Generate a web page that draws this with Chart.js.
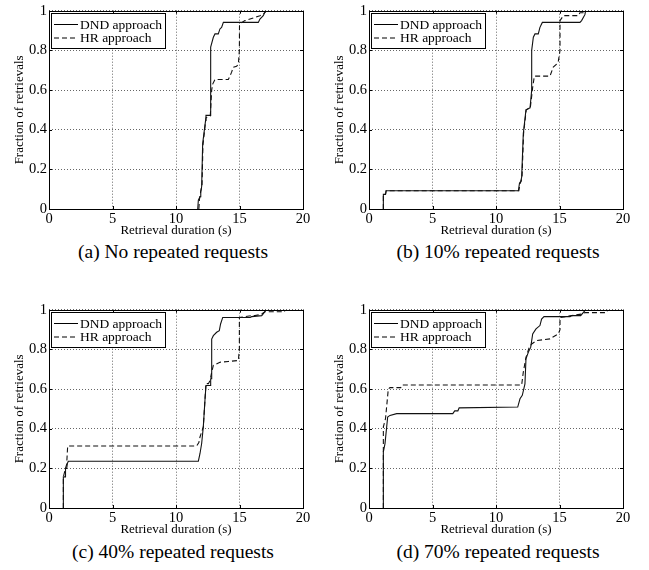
<!DOCTYPE html>
<html>
<head>
<meta charset="utf-8">
<script src="https://cdn.jsdelivr.net/npm/chart.js@4.4.1/dist/chart.umd.min.js"></script>
<style>
body { margin: 0; background: #fff; width: 649px; height: 570px; position: relative; overflow: hidden; }
.cell { position: absolute; width: 320px; height: 240px; }
.cap { position: absolute; width: 320px; text-align: center; font-family: "Liberation Serif", serif; font-size: 19.5px; line-height: 22px; color: #000; }
</style>
</head>
<body>
<div class="cell" style="left:0;top:0"><canvas id="chartA" width="320" height="240"></canvas></div>
<div class="cell" style="left:320px;top:0"><canvas id="chartB" width="320" height="240"></canvas></div>
<div class="cell" style="left:0;top:299px"><canvas id="chartC" width="320" height="240"></canvas></div>
<div class="cell" style="left:320px;top:299px"><canvas id="chartD" width="320" height="240"></canvas></div>
<div class="cap" style="left:13px;top:241px">(a) No repeated requests</div>
<div class="cap" style="left:338px;top:241px">(b) 10% repeated requests</div>
<div class="cap" style="left:13px;top:541px">(c) 40% repeated requests</div>
<div class="cap" style="left:338px;top:541px">(d) 70% repeated requests</div>
<script>
// series names, axis ticks
var seriesNames = ['DND approach', 'HR approach'];
var xTicks = [0, 5, 10, 15, 20];
var yTicks = [0, 0.2, 0.4, 0.6, 0.8, 1];
var xTitle = 'Retrieval duration (s)';
var yTitle = 'Fraction of retrievals';

// (a) no repeated requests
var aDndX = [11.71, 11.76, 11.89, 11.95, 12.02, 12.10, 12.33, 12.36, 12.68, 12.73, 12.94, 13.07, 13.33, 13.46, 13.59, 13.73, 16.48, 16.61, 16.87, 17.0, 17.06];
var aDndY = [0, 0.045, 0.062, 0.087, 0.112, 0.33, 0.447, 0.472, 0.472, 0.816, 0.866, 0.883, 0.883, 0.908, 0.916, 0.941, 0.941, 0.958, 0.975, 0.992, 1];
var aHrX = [11.8, 11.85, 11.95, 12.05, 12.12, 12.36, 12.7, 12.81, 12.89, 13.07, 14.12, 14.38, 14.51, 14.77, 14.91, 14.99, 15.0, 15.17, 15.43, 15.83, 16.22, 16.61, 17.0, 17.08];
var aHrY = [0, 0.05, 0.09, 0.12, 0.32, 0.46, 0.47, 0.6, 0.63, 0.653, 0.653, 0.69, 0.715, 0.72, 0.73, 0.8, 0.925, 0.94, 0.95, 0.958, 0.966, 0.975, 0.99, 1];

// (b) 10% repeated requests
var bDndX = [1.13, 1.13, 1.3, 1.35, 11.76, 11.85, 11.95, 12.02, 12.15, 12.36, 12.68, 12.81, 12.81, 12.94, 13.07, 13.33, 13.46, 13.65, 16.61, 16.74, 17.0, 17.06];
var bDndY = [0, 0.074, 0.074, 0.092, 0.092, 0.13, 0.14, 0.16, 0.38, 0.5, 0.51, 0.6, 0.8, 0.866, 0.883, 0.883, 0.916, 0.941, 0.941, 0.95, 0.98, 1];
var bHrX = [1.13, 1.13, 1.3, 1.35, 11.8, 11.9, 11.98, 12.05, 12.17, 12.38, 12.7, 12.83, 12.89, 13.02, 14.25, 14.51, 14.77, 14.91, 15.04, 15.04, 15.3, 16.48, 16.61, 16.95, 17.0];
var bHrY = [0, 0.074, 0.074, 0.092, 0.092, 0.13, 0.14, 0.16, 0.38, 0.5, 0.51, 0.58, 0.615, 0.67, 0.67, 0.716, 0.73, 0.746, 0.8, 0.95, 0.975, 0.975, 0.99, 0.99, 1];

// (c) 40% repeated requests
var cDndX = [1.13, 1.13, 1.26, 1.3, 1.39, 1.45, 1.52, 11.76, 11.89, 12.02, 12.15, 12.28, 12.36, 12.68, 12.73, 12.81, 12.81, 12.94, 13.2, 13.41, 13.51, 13.68, 15.83, 15.96, 16.75, 17.0, 17.06];
var cDndY = [0, 0.157, 0.157, 0.199, 0.199, 0.225, 0.236, 0.236, 0.275, 0.325, 0.409, 0.543, 0.618, 0.618, 0.652, 0.652, 0.852, 0.869, 0.886, 0.894, 0.928, 0.961, 0.961, 0.965, 0.97, 0.99, 1];
var cHrX = [1.13, 1.13, 1.3, 1.39, 1.47, 11.63, 11.8, 11.89, 12.15, 12.28, 12.36, 12.55, 12.68, 12.81, 12.94, 13.46, 14.12, 14.91, 14.99, 14.99, 15.96, 16.22, 16.75, 17.0, 18.55, 18.56];
var cHrY = [0, 0.157, 0.2, 0.22, 0.313, 0.313, 0.33, 0.358, 0.409, 0.543, 0.627, 0.627, 0.643, 0.685, 0.719, 0.735, 0.739, 0.744, 0.8, 0.961, 0.97, 0.97, 0.978, 0.99, 0.99, 1];

// (d) 70% repeated requests
var dDndX = [1.13, 1.13, 1.26, 1.47, 1.65, 2.18, 6.6, 6.75, 7.0, 7.1, 11.71, 11.89, 12.07, 12.28, 12.36, 12.55, 12.73, 12.89, 13.15, 13.46, 13.59, 13.78, 15.83, 15.96, 16.67, 17.0, 17.06];
var dDndY = [0, 0.283, 0.325, 0.459, 0.467, 0.476, 0.476, 0.49, 0.49, 0.505, 0.509, 0.551, 0.568, 0.626, 0.752, 0.786, 0.81, 0.878, 0.903, 0.92, 0.953, 0.965, 0.965, 0.97, 0.97, 0.995, 1];
var dHrX = [1.13, 1.13, 1.3, 1.52, 1.65, 2.5, 2.6, 12.02, 12.15, 12.36, 12.62, 12.81, 13.2, 14.25, 14.91, 15.04, 15.04, 15.96, 16.75, 17.0, 18.7, 18.8];
var dHrY = [0, 0.409, 0.45, 0.6, 0.607, 0.607, 0.62, 0.62, 0.685, 0.76, 0.81, 0.827, 0.844, 0.853, 0.878, 0.9, 0.961, 0.97, 0.978, 0.985, 0.985, 1];

var serif = '"Liberation Serif", "Times New Roman", serif';

function pts(xs, ys) {
    return xs.map(function (x, i) { return { x: x, y: ys[i] }; });
}

// box around the axes, inward ticks and the boxed legend (matlab look)
var framePlugin = {
    id: 'frame',
    afterDraw: function (chart) {
        var ctx = chart.ctx;
        var ca = chart.chartArea;
        var sx = chart.scales.x, sy = chart.scales.y;
        ctx.save();
        ctx.strokeStyle = '#000';
        ctx.lineWidth = 1;
        ctx.setLineDash([]);
        ctx.beginPath();
        xTicks.forEach(function (v) {
            var px = Math.round(sx.getPixelForValue(v)) + 0.5;
            ctx.moveTo(px, ca.bottom); ctx.lineTo(px, ca.bottom - 3);
            ctx.moveTo(px, ca.top); ctx.lineTo(px, ca.top + 3);
        });
        yTicks.forEach(function (v) {
            var py = Math.round(sy.getPixelForValue(v)) + 0.5;
            ctx.moveTo(ca.left, py); ctx.lineTo(ca.left + 3, py);
            ctx.moveTo(ca.right, py); ctx.lineTo(ca.right - 3, py);
        });
        ctx.stroke();
        ctx.strokeRect(Math.round(ca.left) + 0.5, Math.round(ca.top) + 0.5, Math.round(ca.right - ca.left), Math.round(ca.bottom - ca.top));

        // legend
        var lx = Math.round(ca.left) + 2, ly = Math.round(ca.top) + 2;
        ctx.fillStyle = '#fff';
        ctx.fillRect(lx, ly, 114, 35);
        ctx.strokeRect(lx + 0.5, ly + 0.5, 114, 35);
        ctx.font = '13.5px ' + serif;
        ctx.textBaseline = 'middle';
        chart.data.datasets.forEach(function (ds, i) {
            var y = ly + 11.5 + i * 13.5;
            ctx.setLineDash(ds.borderDash || []);
            ctx.beginPath();
            ctx.moveTo(lx + 3, y); ctx.lineTo(lx + 27, y);
            ctx.stroke();
            ctx.setLineDash([]);
            ctx.fillStyle = '#000';
            ctx.fillText(ds.label, lx + 29, y + 0.5);
        });
        ctx.restore();
    }
};

function makeChart(id, dndX, dndY, hrX, hrY) {
    var target = document.getElementById(id);
    new Chart(target, {
        type: 'line',
        data: {
            datasets: [
                {
                    label: seriesNames[0],
                    data: pts(dndX, dndY),
                    borderColor: '#111',
                    borderWidth: 1.1,
                    pointRadius: 0,
                    fill: false,
                    tension: 0
                },
                {
                    label: seriesNames[1],
                    data: pts(hrX, hrY),
                    borderColor: '#111',
                    borderWidth: 1.1,
                    borderDash: [5, 3],
                    pointRadius: 0,
                    fill: false,
                    tension: 0
                }
            ]
        },
        options: {
            responsive: false,
            animation: false,
            layout: { padding: { top: 10, right: 17, left: 0, bottom: 0 } },
            plugins: { legend: { display: false }, tooltip: { enabled: false } },
            scales: {
                x: {
                    type: 'linear',
                    min: 0,
                    max: 20,
                    afterBuildTicks: function (s) { s.ticks = xTicks.map(function (v) { return { value: v }; }); },
                    afterFit: function (s) { s.height = 31; },
                    ticks: { color: '#000', font: { family: serif, size: 14.5 }, padding: 1, maxRotation: 0, callback: function (v) { return String(v); } },
                    grid: { color: '#666', drawTicks: false },
                    border: { display: false, dash: [1, 2] },
                    title: { display: true, text: xTitle, color: '#000', font: { family: serif, size: 13 }, padding: { top: 0, bottom: 2 } }
                },
                y: {
                    min: 0,
                    max: 1,
                    afterBuildTicks: function (s) { s.ticks = yTicks.map(function (v) { return { value: v }; }); },
                    afterFit: function (s) { s.width = 49; },
                    ticks: { color: '#000', font: { family: serif, size: 14.5 }, padding: 2, callback: function (v) { return String(v); } },
                    grid: { color: '#666', drawTicks: false },
                    border: { display: false, dash: [1, 2] },
                    title: { display: true, text: yTitle, color: '#000', font: { family: serif, size: 13 }, padding: { top: 12, bottom: 0 } }
                }
            }
        },
        plugins: [framePlugin]
    });
}

makeChart('chartA', aDndX, aDndY, aHrX, aHrY);
makeChart('chartB', bDndX, bDndY, bHrX, bHrY);
makeChart('chartC', cDndX, cDndY, cHrX, cHrY);
makeChart('chartD', dDndX, dDndY, dHrX, dHrY);
</script>
</body>
</html>
